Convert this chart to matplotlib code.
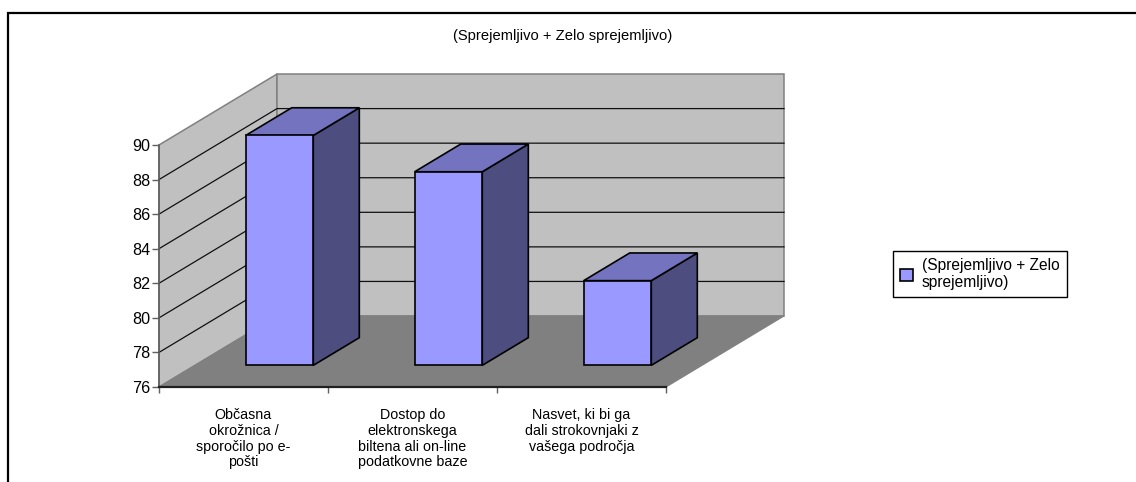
#!/usr/bin/python3

import matplotlib
matplotlib.use("Agg")
import matplotlib.pyplot as plt
from matplotlib.patches import Polygon, Patch, Rectangle
from matplotlib.transforms import IdentityTransform

plt.rcParams['font.family'] = ['Liberation Sans', 'DejaVu Sans']

title = "(Sprejemljivo + Zelo sprejemljivo)"
legend_label = "(Sprejemljivo + Zelo\nsprejemljivo)"
categories = ["Občasna\nokrožnica /\nsporočilo po e-\npošti",
              "Dostop do\nelektronskega\nbiltena ali on-line\npodatkovne baze",
              "Nasvet, ki bi ga\ndali strokovnjaki z\nvašega področja"]
values = [89.3, 87.2, 80.9]
yticks = [76, 78, 80, 82, 84, 86, 88, 90]

W, H = 1136, 482
# oblique depth in data units
DX = 118 / 169.0
DY = 71 / 17.29
BAR_LEFT = 0.51 - 0.21
BAR_W = 0.40
D0, D1 = 0.305, 0.695

def pr(c, v, d):
    return (c + d * DX, v + d * DY)

fig = plt.figure(figsize=(W / 100, H / 100), dpi=100, facecolor="white")
ax = fig.add_axes([159 / W, (H - 387) / H, 507 / W, 242 / H])
ax.set_xlim(0, 3)
ax.set_ylim(76, 90)
ax.patch.set_visible(False)

def poly(pts, fc, ec, lw, z):
    ax.add_patch(Polygon(pts, closed=True, facecolor=fc, edgecolor=ec, linewidth=lw,
                         zorder=z, clip_on=False, joinstyle="miter"))

top = yticks[-1]
bot = yticks[0]
poly([pr(0, bot, 0), pr(0, top, 0), pr(0, top, 1), pr(0, bot, 1)], "#c0c0c0", "#808080", 1.1, 1)
poly([pr(0, bot, 1), pr(0, top, 1), pr(3, top, 1), pr(3, bot, 1)], "#c0c0c0", "#808080", 1.1, 1)

for v in yticks[1:-1]:
    a, b, c = pr(0, v, 0), pr(0, v, 1), pr(3, v, 1)
    ax.plot([a[0], b[0], c[0]], [a[1], b[1], c[1]], color="#101010", lw=0.9, zorder=2, clip_on=False)

poly([pr(0, bot, 0), pr(3, bot, 0), pr(3, bot, 1), pr(0, bot, 1)], "#808080", "#808080", 0.8, 3)

for i, v in enumerate(values):
    l = i + BAR_LEFT
    r = l + BAR_W
    poly([pr(r, bot, D0), pr(r, v, D0), pr(r, v, D1), pr(r, bot, D1)], "#4d4d80", "black", 1.2, 5)
    poly([pr(l, v, D0), pr(r, v, D0), pr(r, v, D1), pr(l, v, D1)], "#7373bf", "black", 1.2, 5)
    poly([pr(l, bot, D0), pr(r, bot, D0), pr(r, v, D0), pr(l, v, D0)], "#9999ff", "black", 1.2, 6)

for s in ["top", "right"]:
    ax.spines[s].set_visible(False)
ax.spines["left"].set_color("#606060")
ax.spines["left"].set_linewidth(1.2)
ax.spines["bottom"].set_color("#202020")
ax.spines["bottom"].set_linewidth(1.6)
ax.spines["left"].set_zorder(8)
ax.spines["bottom"].set_zorder(8)

ax.set_yticks(yticks)
ax.set_xticks([0, 1, 2, 3])
ax.set_xticklabels([])
ax.set_xticks([0.5, 1.5, 2.5], minor=True)
ax.set_xticklabels(categories, minor=True, fontsize=10.3, linespacing=1.17, ha="center", va="top")
ax.tick_params(axis="x", which="minor", length=0, pad=15)
ax.tick_params(axis="x", which="major", length=4, width=1, color="#606060")
ax.tick_params(axis="y", length=5, width=1, color="#606060", labelsize=11.6, pad=1)

fig.text(563 / W, (H - 36) / H, title, ha="center", va="center", fontsize=10.6)

leg = fig.legend(handles=[Patch(facecolor="#9999ff", edgecolor="black", linewidth=1.2, label=legend_label)],
                 loc="upper left", bbox_to_anchor=(893 / W, (H - 251) / H), fontsize=11.2,
                 frameon=True, fancybox=False, edgecolor="black", framealpha=1,
                 borderpad=0.45, handlelength=0.85, handleheight=0.85, handletextpad=0.55, borderaxespad=0)
leg.get_frame().set_linewidth(1.0)

# outer chart border runs off the right and bottom of the picture
fig.add_artist(Rectangle((8, -10), W + 20, H - 13 + 10, transform=IdentityTransform(),
                         fill=False, edgecolor="black", linewidth=1.6))

fig.savefig("out.png", dpi=100)
